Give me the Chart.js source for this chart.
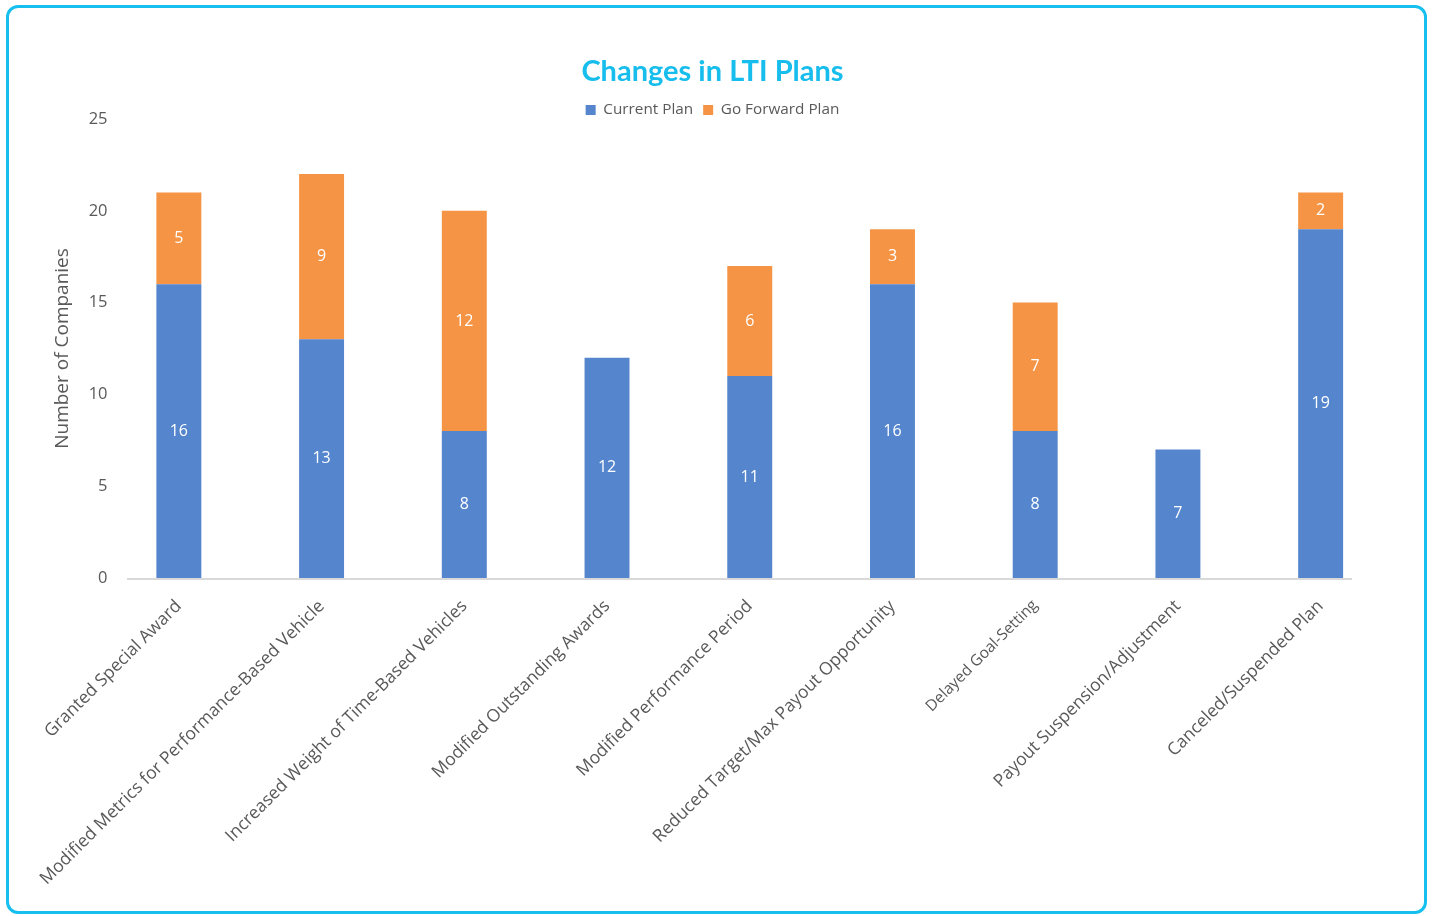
<!DOCTYPE html>
<html>
<head>
<meta charset="utf-8">
<title>Changes in LTI Plans</title>
<script src="https://cdn.jsdelivr.net/npm/chart.js@4.4.1/dist/chart.umd.min.js"></script>
<style>
    html, body { margin: 0; padding: 0; background: #fff; }
    .frame {
        position: absolute;
        left: 6px; top: 5px;
        width: 1415px; height: 903px;
        border: 3px solid #17bfef;
        border-radius: 12px;
    }
    .wrap { position: absolute; left: 0; top: 0; width: 1432px; height: 916px; }
</style>
</head>
<body>
<div class="frame"></div>
<div class="wrap"><canvas id="ltiChart" width="1432" height="916"></canvas></div>
<script>
const categories = [
    'Granted Special Award',
    'Modified Metrics for Performance-Based Vehicle',
    'Increased Weight of Time-Based Vehicles',
    'Modified Outstanding Awards',
    'Modified Performance Period',
    'Reduced Target/Max Payout Opportunity',
    'Delayed Goal-Setting',
    'Payout Suspension/Adjustment',
    'Canceled/Suspended Plan'
];
const currentPlan = [16, 13, 8, 12, 11, 16, 8, 7, 19];
const goForwardPlan = [5, 9, 12, 0, 6, 3, 7, 0, 2];
const yTicks = [0, 5, 10, 15, 20, 25];

const GRAY = '#595959';

// white value labels in the middle of each segment
const barLabels = {
    id: 'barLabels',
    afterDatasetsDraw(chart) {
        const ctx = chart.ctx;
        ctx.save();
        ctx.font = '16px "Open Sans"';
        ctx.fillStyle = '#ffffff';
        ctx.textAlign = 'center';
        ctx.textBaseline = 'middle';
        chart.data.datasets.forEach((ds, i) => {
            chart.getDatasetMeta(i).data.forEach((bar, j) => {
                const v = ds.data[j];
                if (!v) return;
                ctx.fillText(String(v), bar.x, (bar.y + bar.base) / 2);
            });
        });
        ctx.restore();
    }
};

// category axis line (shorter than the plot, like the original)
const baseLine = {
    id: 'baseLine',
    beforeDatasetsDraw(chart) {
        const { ctx, chartArea, scales } = chart;
        const y = scales.y.getPixelForValue(0) + 1;
        ctx.save();
        ctx.strokeStyle = '#d9d9d9';
        ctx.lineWidth = 2;
        ctx.beginPath();
        ctx.moveTo(chartArea.left + 19.5, y);
        ctx.lineTo(chartArea.right - 40, y);
        ctx.stroke();
        ctx.restore();
    }
};

const ctx = document.getElementById('ltiChart').getContext('2d');
new Chart(ctx, {
    type: 'bar',
    data: {
        labels: categories,
        datasets: [{
            label: 'Current Plan',
            data: currentPlan,
            backgroundColor: '#5485cd',
            borderWidth: 0,
            barPercentage: 0.63,
            categoryPercentage: 0.5
        }, {
            label: 'Go Forward Plan',
            data: goForwardPlan,
            backgroundColor: '#f69445',
            borderWidth: 0,
            barPercentage: 0.63,
            categoryPercentage: 0.5
        }]
    },
    options: {
        responsive: false,
        animation: false,
        layout: { padding: { left: 33, right: 40, top: 0, bottom: 0 } },
        plugins: {
            title: {
                display: true,
                text: 'Changes in LTI Plans',
                color: '#17bdec',
                font: { family: 'Lato', size: 29, weight: 'bold' },
                padding: { top: 54.6, bottom: 3 }
            },
            legend: {
                position: 'top',
                maxHeight: 26.6,
                labels: {
                    boxWidth: 10,
                    boxHeight: 10,
                    padding: 10,
                    color: GRAY,
                    font: { family: 'Open Sans', size: 15.3 }
                }
            },
            tooltip: { enabled: false }
        },
        scales: {
            x: {
                stacked: true,
                grid: { display: false },
                border: { display: false },
                ticks: {
                    color: GRAY,
                    autoSkip: false,
                    minRotation: 45,
                    maxRotation: 45,
                    padding: 10,
                    font: (c) => ({ family: 'Open Sans', size: c.index === 6 ? 15.5 : 17.5 })
                },
                afterFit(scale) {
                    scale.height = 338;
                    scale.paddingLeft = 0;
                    scale.paddingRight = 0;
                }
            },
            y: {
                stacked: true,
                min: 0,
                max: 25,
                grid: { display: false, drawTicks: false },
                border: { display: false },
                afterBuildTicks(scale) {
                    scale.ticks = yTicks.map(v => ({ value: v }));
                },
                ticks: {
                    color: GRAY,
                    padding: 0,
                    font: { family: 'Open Sans', size: 16.5 }
                },
                title: {
                    display: true,
                    text: 'Number of Companies',
                    color: GRAY,
                    font: { family: 'Open Sans', size: 19 },
                    padding: { top: 18, bottom: 0 }
                },
                afterFit(scale) {
                    scale.width = 74.5;
                    scale.paddingTop = 0;
                    scale.paddingBottom = 0;
                }
            }
        }
    },
    plugins: [baseLine, barLabels]
});
</script>
</body>
</html>
